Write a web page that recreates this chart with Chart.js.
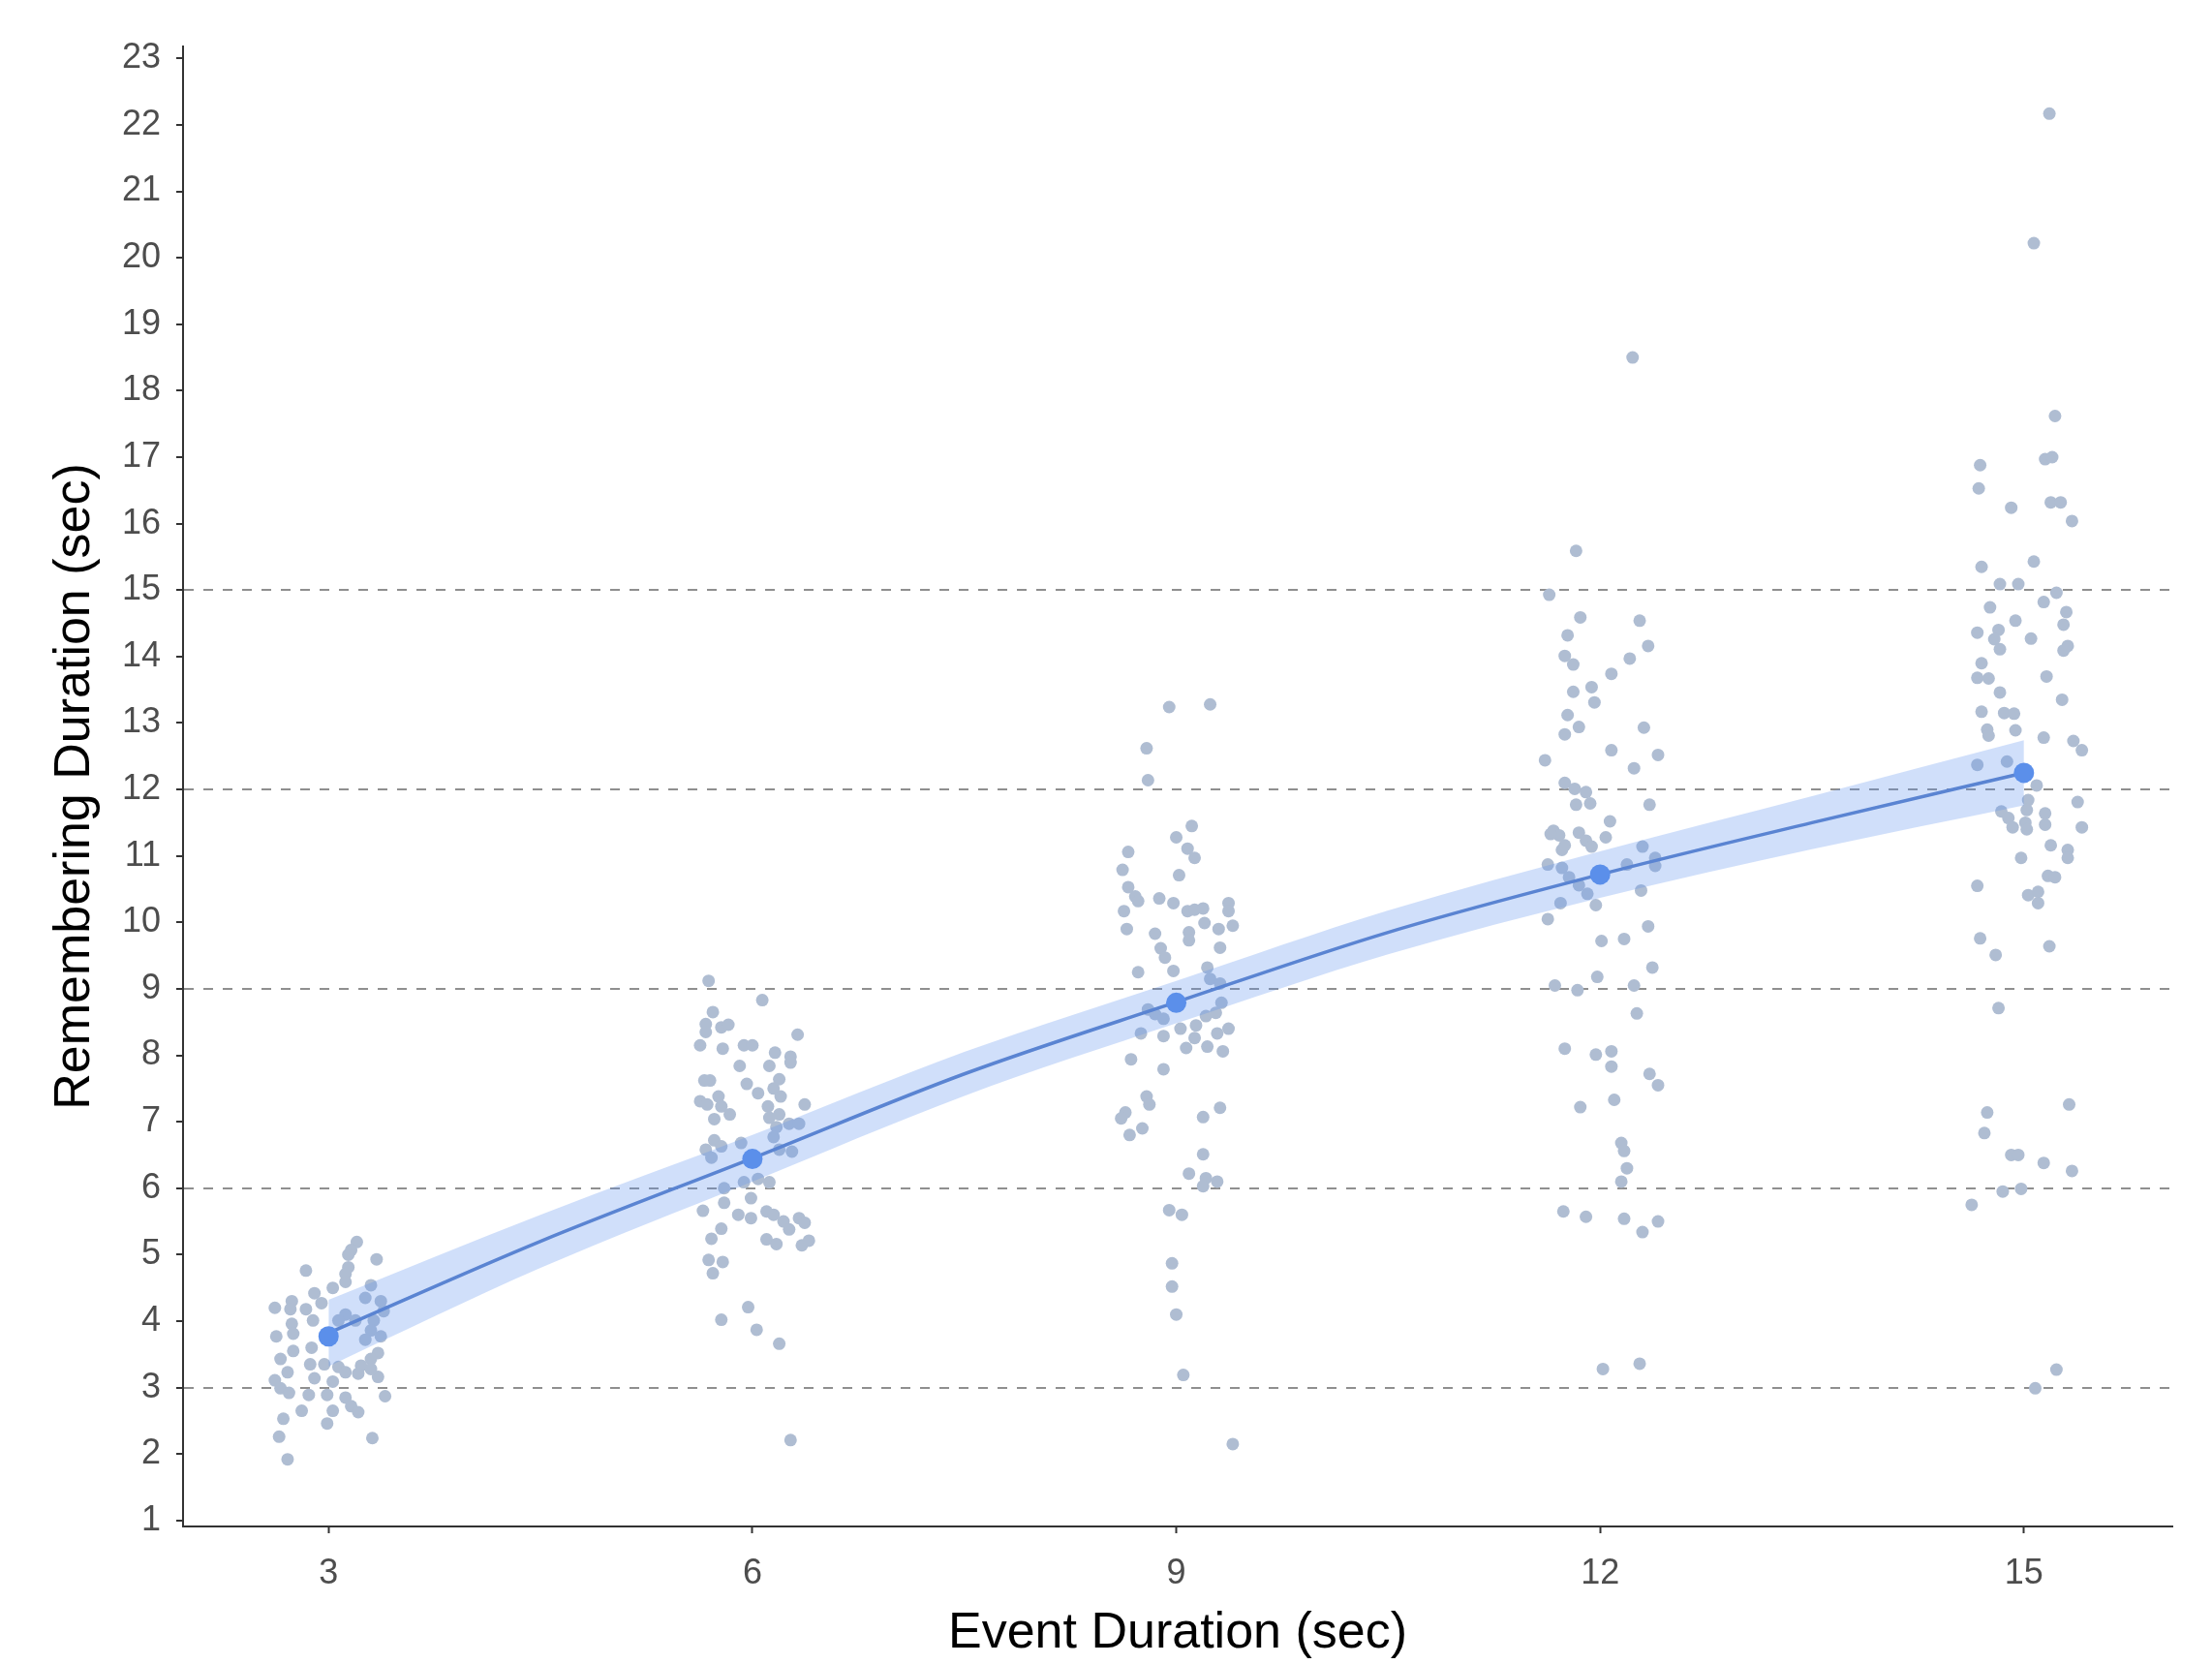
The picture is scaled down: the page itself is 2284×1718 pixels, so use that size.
<!DOCTYPE html>
<html>
<head>
<meta charset="utf-8">
<script src="https://cdn.jsdelivr.net/npm/chart.js@4.4.0/dist/chart.umd.min.js"></script>
<style>
  html, body { margin: 0; padding: 0; background: #fff; }
</style>
</head>
<body>
<canvas id="myChart" width="2284" height="1718"></canvas>
<script>
// jittered raw observations, [event duration, remembering duration]
const group3 = [[3.20,5.19],[3.16,5.07],[3.14,5.00],[3.34,4.93],[2.84,4.76],[3.14,4.81],[3.12,4.71],[3.12,4.59],[3.03,4.50],[3.30,4.54],[2.90,4.42],[2.95,4.27],[2.74,4.30],[2.62,4.20],[2.73,4.18],[2.84,4.18],[3.26,4.35],[3.37,4.30],[3.39,4.15],[3.32,4.01],[3.30,3.86],[3.37,3.77],[3.12,4.10],[3.07,4.01],[3.19,4.01],[2.89,4.01],[2.74,3.96],[2.75,3.81],[2.63,3.77],[3.26,3.72],[3.35,3.52],[3.30,3.43],[3.23,3.33],[3.21,3.21],[3.35,3.16],[3.30,3.28],[2.88,3.60],[2.75,3.55],[2.66,3.43],[2.87,3.35],[2.97,3.35],[3.07,3.31],[3.12,3.23],[2.71,3.23],[2.62,3.11],[2.66,2.99],[2.72,2.92],[2.90,3.14],[3.03,3.09],[2.86,2.89],[2.99,2.89],[3.40,2.87],[3.12,2.85],[3.16,2.72],[3.21,2.63],[2.81,2.65],[3.03,2.65],[2.99,2.46],[2.68,2.53],[2.65,2.26],[3.31,2.24],[2.71,1.92]];
const group6 = [[5.69,9.12],[6.07,8.83],[5.72,8.65],[5.67,8.47],[5.67,8.35],[5.78,8.42],[5.83,8.46],[6.32,8.31],[5.63,8.15],[5.79,8.10],[5.94,8.15],[6.00,8.15],[6.16,8.04],[6.27,7.98],[6.27,7.89],[5.91,7.84],[6.12,7.84],[6.19,7.64],[5.66,7.62],[5.70,7.62],[5.96,7.57],[6.04,7.43],[6.15,7.50],[6.20,7.38],[5.63,7.31],[5.76,7.38],[5.68,7.26],[5.78,7.23],[5.84,7.11],[5.73,7.04],[6.11,7.23],[6.37,7.26],[6.12,7.06],[6.19,7.11],[6.17,6.92],[6.26,6.97],[6.33,6.97],[5.73,6.72],[5.67,6.58],[5.78,6.63],[5.71,6.46],[5.92,6.68],[6.15,6.77],[6.19,6.58],[6.28,6.55],[5.80,6.00],[5.94,6.09],[6.04,6.14],[6.12,6.09],[5.65,5.66],[5.80,5.78],[5.99,5.85],[5.90,5.60],[5.99,5.55],[6.10,5.65],[6.15,5.60],[6.22,5.50],[6.26,5.38],[6.33,5.55],[6.37,5.48],[5.78,5.39],[5.71,5.24],[6.10,5.23],[6.17,5.16],[6.35,5.14],[6.40,5.21],[5.69,4.92],[5.79,4.89],[5.72,4.72],[5.97,4.21],[5.78,4.02],[6.03,3.87],[6.19,3.66],[6.27,2.21]];
const group9 = [[8.95,13.24],[9.24,13.28],[8.79,12.62],[8.80,12.14],[9.11,11.45],[9.00,11.28],[9.08,11.11],[9.13,10.97],[8.66,11.06],[8.62,10.79],[9.02,10.71],[8.66,10.53],[8.71,10.39],[8.73,10.32],[8.63,10.17],[8.88,10.36],[8.98,10.29],[9.08,10.17],[9.13,10.19],[9.19,10.21],[9.37,10.29],[9.37,10.17],[8.65,9.90],[8.85,9.83],[9.09,9.85],[9.09,9.73],[9.20,9.99],[9.30,9.90],[9.40,9.95],[8.89,9.61],[8.92,9.47],[9.31,9.62],[8.73,9.25],[8.98,9.27],[9.22,9.32],[9.24,9.15],[9.31,9.08],[8.80,8.69],[8.85,8.62],[8.91,8.55],[9.03,8.40],[9.14,8.45],[9.21,8.59],[9.28,8.64],[9.32,8.79],[8.75,8.33],[8.91,8.29],[9.13,8.26],[9.07,8.11],[9.22,8.13],[9.29,8.33],[9.37,8.40],[9.33,8.06],[8.68,7.94],[8.91,7.79],[8.79,7.38],[8.81,7.26],[8.64,7.14],[8.61,7.05],[8.76,6.90],[8.67,6.80],[9.19,7.07],[9.31,7.21],[9.19,6.51],[9.09,6.22],[9.21,6.15],[9.29,6.10],[9.19,6.03],[8.95,5.67],[9.04,5.60],[8.97,4.87],[8.97,4.52],[9.00,4.10],[9.05,3.19],[9.40,2.15]];
const group12 = [[12.23,18.50],[11.83,15.59],[11.64,14.93],[11.86,14.59],[12.28,14.54],[11.77,14.32],[12.34,14.16],[11.75,14.01],[11.81,13.88],[12.21,13.97],[12.08,13.74],[11.81,13.47],[11.94,13.54],[11.96,13.31],[11.77,13.12],[11.85,12.94],[11.75,12.83],[12.31,12.93],[12.08,12.59],[12.41,12.52],[11.61,12.44],[12.24,12.32],[11.75,12.10],[11.82,12.01],[11.90,11.96],[11.83,11.77],[11.93,11.79],[12.35,11.77],[12.07,11.52],[12.04,11.28],[11.67,11.38],[11.71,11.31],[11.65,11.33],[11.85,11.35],[11.90,11.23],[11.94,11.14],[11.73,11.09],[11.75,11.16],[11.63,10.87],[11.73,10.82],[12.30,11.14],[12.19,10.87],[12.39,10.85],[12.39,10.97],[11.78,10.68],[11.85,10.56],[11.91,10.43],[11.97,10.26],[11.72,10.29],[12.29,10.48],[11.63,10.05],[12.34,9.94],[12.01,9.72],[12.17,9.75],[12.37,9.32],[11.98,9.18],[11.68,9.05],[11.84,8.98],[12.24,9.05],[12.26,8.63],[11.75,8.10],[11.97,8.01],[12.08,8.06],[12.08,7.83],[12.35,7.72],[12.41,7.55],[11.86,7.22],[12.10,7.33],[12.15,6.68],[12.17,6.56],[12.19,6.30],[12.15,6.10],[11.74,5.65],[11.90,5.57],[12.17,5.54],[12.30,5.34],[12.41,5.50],[12.02,3.28],[12.28,3.36]];
const group15 = [[15.18,22.17],[15.07,20.22],[15.22,17.62],[15.15,16.97],[15.20,17.00],[14.69,16.88],[14.68,16.53],[14.91,16.24],[15.19,16.32],[15.26,16.32],[15.34,16.04],[14.70,15.35],[15.07,15.43],[14.83,15.09],[14.96,15.09],[15.23,14.96],[15.14,14.82],[14.76,14.74],[15.30,14.67],[15.28,14.48],[14.94,14.54],[14.67,14.36],[14.82,14.40],[14.79,14.26],[14.83,14.11],[15.05,14.27],[15.31,14.16],[15.28,14.09],[14.70,13.90],[14.67,13.68],[14.75,13.67],[15.16,13.70],[14.83,13.46],[15.27,13.35],[14.70,13.17],[14.86,13.15],[14.93,13.14],[14.74,12.90],[14.75,12.81],[14.94,12.89],[15.14,12.78],[15.35,12.73],[15.41,12.59],[14.67,12.37],[14.88,12.42],[15.09,12.06],[15.03,11.84],[15.02,11.69],[15.01,11.50],[15.02,11.40],[14.84,11.67],[14.89,11.57],[14.92,11.43],[15.15,11.64],[15.15,11.47],[15.38,11.81],[15.41,11.43],[15.19,11.16],[15.31,11.09],[15.31,10.97],[14.98,10.97],[15.17,10.70],[15.22,10.68],[14.67,10.55],[15.03,10.41],[15.10,10.46],[15.10,10.29],[14.69,9.76],[14.80,9.51],[15.18,9.64],[14.82,8.71],[14.74,7.14],[14.72,6.83],[15.32,7.26],[14.91,6.50],[14.96,6.50],[15.14,6.38],[15.34,6.26],[14.85,5.95],[14.98,5.99],[14.63,5.75],[15.23,3.27],[15.08,2.99]];

// group means
const eventDurations = [3, 6, 9, 12, 15];
const meanValues = [3.77, 6.44, 8.79, 10.72, 12.25];

// fitted curve and confidence band
const fitX = [3, 4.5, 6, 7.5, 9, 10.5, 12, 13.5, 15];
const fitY = [3.82, 5.20, 6.45, 7.72, 8.80, 9.85, 10.72, 11.50, 12.25];
const fitLower = [3.32, 4.80, 6.10, 7.39, 8.48, 9.52, 10.37, 11.10, 11.76];
const fitUpper = [4.32, 5.60, 6.80, 8.05, 9.12, 10.18, 11.07, 11.90, 12.74];

const xTicks = [3, 6, 9, 12, 15];
const yTicks = [1, 2, 3, 4, 5, 6, 7, 8, 9, 10, 11, 12, 13, 14, 15, 16, 17, 18, 19, 20, 21, 22, 23];
const dashedLines = [3, 6, 9, 12, 15];

function toPoints(pairs) {
    return pairs.map(p => ({ x: p[0], y: p[1] }));
}
function zipXY(xs, ys) {
    return xs.map((x, i) => ({ x: x, y: ys[i] }));
}

const pointColor = '#AFBDD2';
const groups = [group3, group6, group9, group12, group15];
const scatterSets = groups.map(g => ({
    type: 'scatter',
    data: toPoints(g),
    backgroundColor: pointColor,
    borderWidth: 0,
    pointRadius: 6.5,
    pointHoverRadius: 6.5
}));

const tickFont = { family: 'Liberation Sans', size: 36 };
const titleFont = { family: 'Liberation Sans', size: 52 };

const ctx = document.getElementById('myChart').getContext('2d');
new Chart(ctx, {
    type: 'scatter',
    data: {
        datasets: [
            {
                type: 'scatter',
                data: zipXY(eventDurations, meanValues),
                backgroundColor: '#5B8FEA',
                borderWidth: 0,
                pointRadius: 10.5,
                pointHoverRadius: 10.5
            },
            {
                type: 'line',
                data: zipXY(fitX, fitY),
                borderColor: '#5A84D2',
                borderWidth: 3.5,
                pointRadius: 0,
                cubicInterpolationMode: 'monotone',
                fill: false
            },
            {
                type: 'line',
                data: zipXY(fitX, fitUpper),
                borderWidth: 0,
                borderColor: 'rgba(0,0,0,0)',
                pointRadius: 0,
                cubicInterpolationMode: 'monotone',
                backgroundColor: 'rgba(100,149,237,0.3)',
                fill: '+1'
            },
            {
                type: 'line',
                data: zipXY(fitX, fitLower),
                borderWidth: 0,
                borderColor: 'rgba(0,0,0,0)',
                pointRadius: 0,
                cubicInterpolationMode: 'monotone',
                fill: false
            },
            ...scatterSets
        ]
    },
    options: {
        responsive: false,
        animation: false,
        layout: { padding: { top: 48, right: 41, left: 0, bottom: 0 } },
        plugins: {
            legend: { display: false },
            tooltip: { enabled: false }
        },
        scales: {
            x: {
                type: 'linear',
                min: 1.97,
                max: 16.05,
                afterBuildTicks: s => { s.ticks = xTicks.map(v => ({ value: v })); },
                afterFit: s => { s.height = 142; },
                ticks: { font: tickFont, color: '#4D4D4D', padding: 20, maxRotation: 0, autoSkip: false },
                grid: { drawOnChartArea: false, tickLength: 7, tickWidth: 2, tickColor: '#333333' },
                border: { color: '#333333', width: 2 },
                title: {
                    display: true,
                    text: 'Event Duration (sec)',
                    font: titleFont,
                    color: '#000000',
                    padding: { top: 0, bottom: 0 }
                }
            },
            y: {
                type: 'linear',
                min: 0.91,
                max: 23.18,
                afterBuildTicks: s => { s.ticks = yTicks.map(v => ({ value: v })); },
                afterFit: s => { s.width = 189; },
                ticks: { font: tickFont, color: '#4D4D4D', padding: 16, autoSkip: false },
                grid: {
                    color: c => (c.tick && dashedLines.includes(c.tick.value)) ? '#8F8F8F' : 'rgba(0,0,0,0)',
                    lineWidth: 2,
                    tickLength: 7,
                    tickWidth: 2,
                    tickColor: '#333333'
                },
                border: { color: '#333333', width: 2, dash: [10, 10] },
                title: {
                    display: true,
                    text: 'Remembering Duration (sec)',
                    font: titleFont,
                    color: '#000000',
                    padding: { top: 46, bottom: 0 }
                }
            }
        }
    }
});
</script>
</body>
</html>
